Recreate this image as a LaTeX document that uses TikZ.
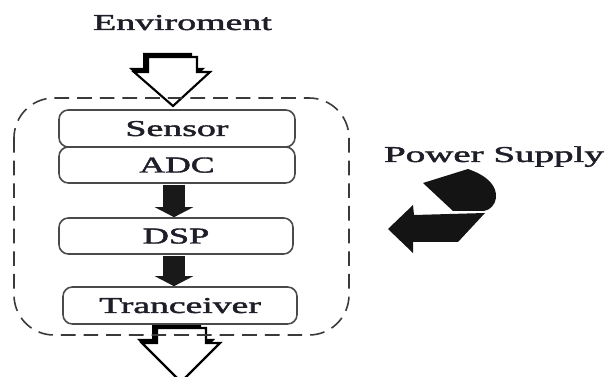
\documentclass[tikz,border=0pt]{standalone}
\usepackage{fontspec}
\usepackage{graphicx}
\setmainfont{Liberation Serif}
\newfontfamily\lblfam[FakeBold=1.6]{Liberation Serif}
\usetikzlibrary{arrows.meta}
\newcommand\lblfont{\lblfam\fontsize{17}{20}\selectfont}
\definecolor{boxgray}{HTML}{4A4A4A}
\definecolor{dashgray}{HTML}{3A3A3A}
\definecolor{txt}{HTML}{1E1E28}
\begin{document}
\begin{tikzpicture}[x=0.75pt,y=-0.75pt,
  blk/.style={draw=boxgray, line width=1.2pt, rounded corners=7pt, fill=white,
    minimum height=36*0.75pt, inner sep=0pt, text height=11.25pt, text depth=0pt,
    font=\lblfont, text=txt},
  lbl/.style={font=\lblfont, text=txt, inner sep=0pt, anchor=base},
  flow/.style={line width=16.5pt, black!90, -{Triangle[width=28.5pt,length=7.5pt]}, shorten <=0.7pt},
  hollow/.style={fill=white, draw=black, line width=1.6pt, line join=miter},
  shadowfill/.style={fill=black},
  container/.style={draw=dashgray, line width=1.2pt, dash pattern=on 11pt off 6pt, rounded corners=30pt},
  power/.style={fill=black!92}]
\useasboundingbox (0,0) rectangle (607,377);
\fill[white] (0,0) rectangle (607,377);

% top hollow arrow (environment input)
\fill[shadowfill] (143,53) -- (192,53) -- (192,68) -- (205,68) -- (168,102) -- (129,68) -- (143,68) -- cycle;
\draw[hollow] (148,57) -- (197,57) -- (197,72) -- (210,72) -- (173,106) -- (134,72) -- (148,72) -- cycle;

% bottom hollow arrow (output)
\fill[shadowfill] (152,324) -- (201,324) -- (201,339) -- (215,339) -- (176,378) -- (137,339) -- (152,339) -- cycle;
\draw[hollow] (157,328) -- (206,328) -- (206,343) -- (220,343) -- (181,382) -- (142,343) -- (157,343) -- cycle;

% dashed container
\draw[container] (14,98) rectangle (349,335);

% labels
\node[lbl] (env) at (182.5,30) {\scalebox{1.67}[1]{Enviroment}};
\node[lbl] (ps) at (494,162) {\scalebox{1.72}[1]{Power Supply}};

% blocks
\node[blk, minimum width=236*0.75pt, minimum height=37*0.75pt] (sensor) at (177,128.5) {\scalebox{1.67}[1]{Sensor}};
\node[blk, minimum width=236*0.75pt] (adc) at (177,165) {\scalebox{1.57}[1]{ADC}};
\node[blk, minimum width=234*0.75pt] (dsp) at (176,236) {\scalebox{1.6}[1]{DSP}};
\node[blk, minimum width=234*0.75pt, minimum height=37*0.75pt] (trx) at (180,305.5) {\scalebox{1.66}[1]{Tranceiver}};

% flow arrows
\draw[flow] ([xshift=-2.25pt]adc.south) -- ([xshift=-2.25pt]adc.south |- dsp.north);
\draw[flow] ([xshift=-2.25pt]adc.south |- dsp.south) -- ([xshift=-2.25pt]adc.south |- trx.north);

% power supply symbol
\fill[power] (423,183) -- (468,169) .. controls (488,176) and (497,186) .. (496,198)
  .. controls (495,205) and (490,210) .. (484,211) -- (453,211) -- cycle;
\fill[power] (388,229) -- (413,205) -- (414,215) -- (485,213) -- (458,242)
  -- (413,242) -- (413,253) -- cycle;
\end{tikzpicture}
\end{document}
